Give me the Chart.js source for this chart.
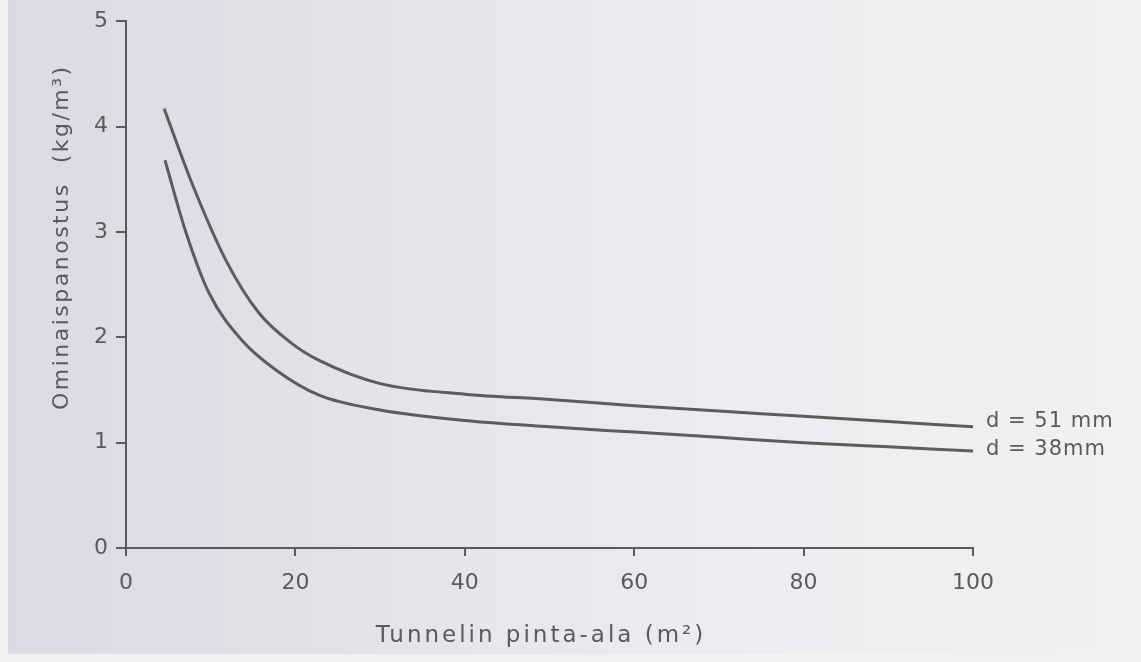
<!DOCTYPE html>
<html>
<head>
<meta charset="utf-8">
<script src="https://cdn.jsdelivr.net/npm/chart.js@4/dist/chart.umd.min.js"></script>
<style>
  html, body { margin: 0; padding: 0; background: #f2f2f2; }
  #paper {
    position: absolute; left: 8px; top: 0; width: 1133px; height: 654px;
    background: linear-gradient(to right, #d9dae3 0%, #e4e4ea 35%, #eeecf0 65%, #f3f0f2 100%);
  }
  #wrap { position: absolute; left: 0; top: 0; width: 1141px; height: 662px; }
</style>
</head>
<body>
<div id="paper"></div>
<div id="wrap"><canvas id="chart" width="1141" height="662"></canvas></div>
<script>
// data
const xTicks = [0, 20, 40, 60, 80, 100]
const yTicks = [0, 1, 2, 3, 4, 5]

const area51 = [4.5, 7.8, 11.8, 15.7, 19.6, 22.8, 30, 40, 50, 60, 70, 80, 90, 100]
const val51  = [4.17, 3.46, 2.73, 2.23, 1.94, 1.78, 1.56, 1.46, 1.41, 1.35, 1.30, 1.25, 1.20, 1.15]

const area38 = [4.6, 7.1, 9.8, 13.7, 17.7, 22.8, 30, 40, 50, 60, 70, 80, 90, 100]
const val38  = [3.68, 2.99, 2.42, 1.97, 1.69, 1.45, 1.31, 1.21, 1.15, 1.10, 1.05, 1.00, 0.96, 0.92]

const seriesNames = ['d = 51 mm', 'd = 38mm']
const xTitle = 'Tunnelin pinta-ala (m²)'
const yTitle = 'Ominaispanostus  (kg/m³)'

const ink = '#5a5a5c'
const font = 'DejaVu Sans'

function toPoints(xs, ys) {
    return xs.map((x, i) => ({ x: x, y: ys[i] }))
}

// titles and curve labels drawn on the canvas
const textPlugin = {
    id: 'texts',
    afterDraw(chart) {
        let ctx = chart.ctx
        let xs = chart.scales.x
        let ys = chart.scales.y
        ctx.save()
        ctx.fillStyle = ink
        ctx.textBaseline = 'middle'

        // x title
        ctx.font = '23px "' + font + '"'
        ctx.letterSpacing = '3px'
        ctx.textAlign = 'center'
        ctx.fillText(xTitle, xs.getPixelForValue(49), 636)

        // y title
        ctx.font = '22px "' + font + '"'
        ctx.letterSpacing = '2.5px'
        ctx.save()
        ctx.translate(62, ys.getPixelForValue(2.95))
        ctx.rotate(-Math.PI / 2)
        ctx.fillText(yTitle, 0, 0)
        ctx.restore()

        // curve end labels
        ctx.font = '21px "' + font + '"'
        ctx.letterSpacing = '1px'
        ctx.textAlign = 'left'
        chart.data.datasets.forEach((ds, i) => {
            let last = ds.data[ds.data.length - 1]
            let px = xs.getPixelForValue(last.x)
            let py = ys.getPixelForValue(last.y)
            ctx.fillText(ds.label, px + 13, py + (i == 0 ? -5 : -2))
        })
        ctx.restore()
    }
}

let miCanvas = document.getElementById('chart')

miChart = new Chart(miCanvas, {
    type: 'line',
    data: {
        datasets: [{
            label: seriesNames[0],
            data: toPoints(area51, val51),
            borderColor: '#5c5c5e',
            borderWidth: 3,
            pointRadius: 0,
            cubicInterpolationMode: 'monotone',
            fill: false
        }, {
            label: seriesNames[1],
            data: toPoints(area38, val38),
            borderColor: '#5c5c5e',
            borderWidth: 3,
            pointRadius: 0,
            cubicInterpolationMode: 'monotone',
            fill: false
        }]
    },
    options: {
        responsive: false,
        animation: false,
        devicePixelRatio: 1,
        layout: {
            padding: { left: 0, top: 21, right: 168, bottom: 0 }
        },
        plugins: {
            legend: { display: false },
            tooltip: { enabled: false }
        },
        scales: {
            x: {
                type: 'linear',
                min: 0,
                max: 100,
                afterBuildTicks: scale => { scale.ticks = xTicks.map(v => ({ value: v })) },
                afterFit: scale => { scale.height = 114 },
                border: { color: ink, width: 2 },
                grid: { drawOnChartArea: false, drawTicks: true, tickLength: 8, color: ink, lineWidth: 2 },
                ticks: { color: ink, padding: 14, font: { family: font, size: 22 } }
            },
            y: {
                type: 'linear',
                min: 0,
                max: 5,
                afterBuildTicks: scale => { scale.ticks = yTicks.map(v => ({ value: v })) },
                afterFit: scale => { scale.width = 126 },
                border: { color: ink, width: 2 },
                grid: { drawOnChartArea: false, drawTicks: true, tickLength: 10, color: ink, lineWidth: 2 },
                ticks: { color: ink, padding: 8, font: { family: font, size: 22 } }
            }
        }
    },
    plugins: [textPlugin]
})
</script>
</body>
</html>
